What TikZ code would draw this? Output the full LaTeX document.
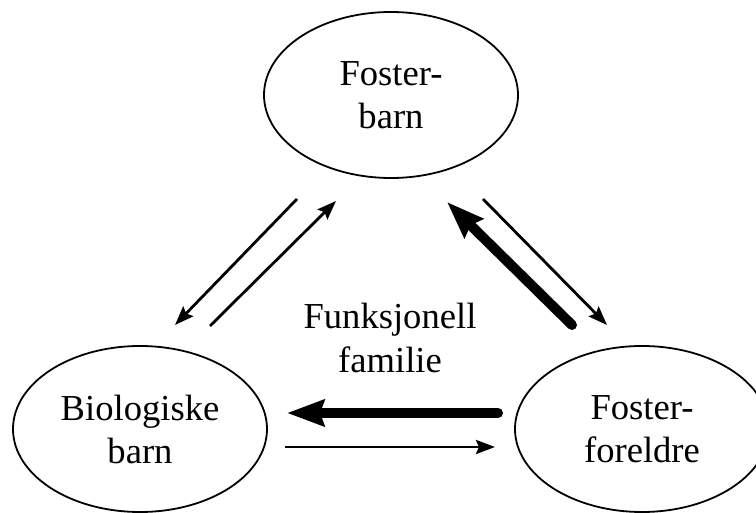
\documentclass[tikz,border=0pt]{standalone}
\usepackage{fontspec}
\setmainfont{Liberation Serif}
\usetikzlibrary{shapes.geometric,arrows.meta}

\tikzset{
  part/.style={draw,ellipse,line width=0.9pt,minimum width=127pt,minimum height=83pt,
    align=center,inner sep=0pt,font=\fontsize{18.3}{21.5}\selectfont},
  thinarr/.style={line width=1.4pt,-{Stealth[length=9.5pt,width=7pt,inset=1.5pt]}},
  thickarr/.style={line width=5pt,line cap=round,-{Stealth[length=18.5pt,width=13pt,inset=2pt]}}
}

\begin{document}
\begin{tikzpicture}[x=0.5pt,y=-0.5pt]
\clip (0,0) rectangle (756,513);
\node[part] (fbarn) at (391,95) {Foster-\\barn};
\node[part] (biobarn) at (140,429) {Biologiske\\barn};
\node[part] (ffor) at (642,429) {Foster-\\foreldre};
\node[align=center,font=\fontsize{18.3}{22}\selectfont] (funk) at (390,338) {Funksjonell\\familie};

\coordinate (l1s) at (297,199);
\coordinate (l1e) at (175,325);
\coordinate (l2s) at (210,326);
\coordinate (l2e) at (336,201);
\coordinate (r1s) at (572,325);
\coordinate (r1e) at (447,202);
\coordinate (r2s) at (483,199);
\coordinate (r2e) at (607,325);
\coordinate (b1s) at (498,413);
\coordinate (b1e) at (287,413);
\coordinate (b2s) at (285,447);
\coordinate (b2e) at (495,447);

\draw[thinarr] (l1s) -- (l1e);
\draw[thinarr] (l2s) -- (l2e);
\draw[thickarr] (r1s) -- (r1e);
\draw[thinarr] (r2s) -- (r2e);
\draw[thickarr] (b1s) -- (b1e);
\draw[thinarr] (b2s) -- (b2e);
\end{tikzpicture}
\end{document}
